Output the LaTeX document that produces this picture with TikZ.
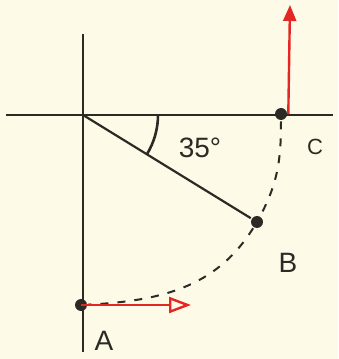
\documentclass[tikz,border=0pt]{standalone}
\usepackage{fontspec}
\setmainfont{Liberation Sans}
\usetikzlibrary{arrows.meta}
\definecolor{paper}{RGB}{253,251,231}
\definecolor{ink}{RGB}{45,42,38}
\definecolor{penred}{RGB}{228,38,36}

\begin{document}
\begin{tikzpicture}[x=1pt,y=1pt,line width=2.6pt,
    dot/.style={circle,fill=ink,inner sep=0pt,minimum size=12pt},
    lbl/.style={text=ink,inner sep=0pt,font=\fontsize{28}{28}\selectfont},
    vec/.style={penred,line width=2.4pt}]
  \fill[paper] (0,0) rectangle (338,359);
  % axes
  \coordinate (o) at (83,244);
  \coordinate (xl) at (6,244);
  \coordinate (xr) at (333,244);
  \coordinate (yt) at (83,325);
  \coordinate (yb) at (83,7);
  \draw[ink] (xl) -- (xr);
  \draw[ink] (yt) -- (yb);
  % points on the circle
  \node[dot] (C) at (281,245) {};
  \node[dot] (B) at (257,137) {};
  \node[dot] (A) at (81,54) {};
  \draw[ink,line width=2.2pt] (o) -- (B);
  \draw[ink] (o) ++(75,0) arc[start angle=0,end angle=-32,radius=75];
  \draw[ink,line width=2pt,dash pattern=on 8pt off 9pt]
    (C) to[out=-90,in=62] (B) to[out=-122,in=3] (A);
  % velocity arrows
  \coordinate (ctip) at (290,354);
  \coordinate (atip) at (191,54);
  \draw[vec,-{Triangle[length=16pt,width=13pt]}] (C.east) -- (ctip);
  \draw[vec,-{Triangle[open,length=22pt,width=16pt]}] (A.center) -- (atip);
  % labels
  \node[lbl] (ang) at (200,211) {35°};
  \node[lbl,font=\fontsize{22}{22}\selectfont] (lc) at (315,212) {C};
  \node[lbl] (lb) at (288,96) {B};
  \node[lbl] (la) at (104,18) {A};
\end{tikzpicture}
\end{document}
